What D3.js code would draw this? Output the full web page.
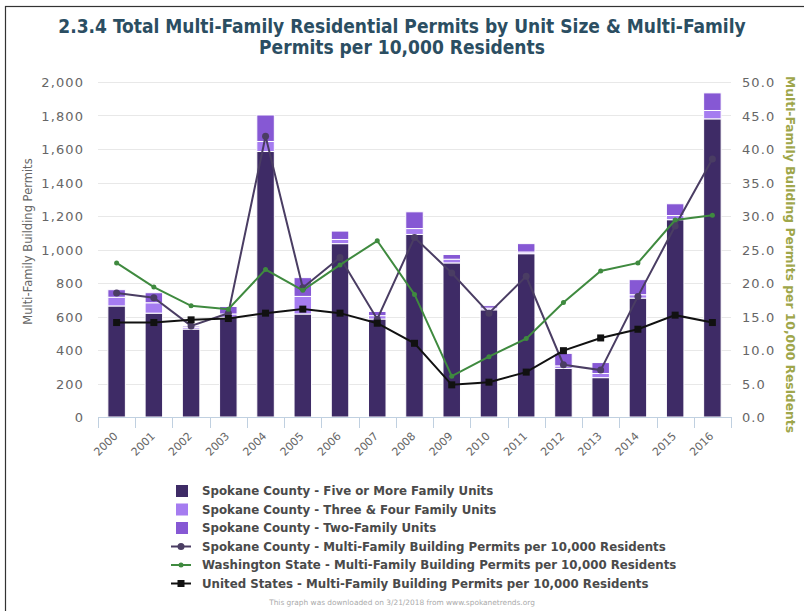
<!DOCTYPE html>
<html><head><meta charset="utf-8">
<script src="https://cdn.jsdelivr.net/npm/d3@7"></script>
<style>
body{margin:0;background:#fff;}
svg{display:block;}
text{font-family:"DejaVu Sans",sans-serif;}
</style></head>
<body><svg id="c" width="804" height="611"></svg>
<script>
const years = ["2000","2001","2002","2003","2004","2005","2006","2007","2008","2009","2010","2011","2012","2013","2014","2015","2016"];
const fivePlus   = [663, 620, 525, 595, 1585, 615, 1035, 585, 1090, 920, 640, 975, 290, 235, 710, 1178, 1780];
const threeFour  = [52, 62, 10, 20, 60, 105, 25, 20, 35, 22, 10, 10, 15, 25, 20, 25, 50];
const twoFamily  = [45, 60, 8, 45, 158, 112, 50, 25, 100, 28, 15, 50, 75, 65, 90, 70, 105];
const spokaneRate = [18.5, 17.8, 13.6, 15.5, 41.9, 19.3, 23.8, 14.6, 26.8, 21.5, 15.5, 21.0, 7.8, 7.0, 18.0, 28.5, 38.5];
const waRate      = [23.0, 19.4, 16.6, 16.1, 22.0, 18.9, 22.7, 26.3, 18.3, 6.1, 9.0, 11.7, 17.1, 21.8, 23.0, 29.4, 30.1];
const usRate      = [14.1, 14.1, 14.5, 14.7, 15.5, 16.1, 15.5, 14.0, 11.0, 4.8, 5.2, 6.7, 9.9, 11.8, 13.1, 15.2, 14.1];
const leftTicks  = [0, 200, 400, 600, 800, 1000, 1200, 1400, 1600, 1800, 2000];
const rightTicks = [0, 5, 10, 15, 20, 25, 30, 35, 40, 45, 50];
const titleLines = ["2.3.4 Total Multi-Family Residential Permits by Unit Size & Multi-Family", "Permits per 10,000 Residents"];
const leftTitle = "Multi-Family Building Permits";
const rightTitle = "Multi-Family Building Permits per 10,000 Residents";
const footer = "This graph was downloaded on 3/21/2018 from www.spokanetrends.org";

const barSeries = [
  {name:"Spokane County - Five or More Family Units", values:fivePlus, color:"#3e2b66"},
  {name:"Spokane County - Three & Four Family Units", values:threeFour, color:"#a57cf0"},
  {name:"Spokane County - Two-Family Units", values:twoFamily, color:"#8658d4"}
];
const lineSeries = [
  {name:"Spokane County - Multi-Family Building Permits per 10,000 Residents", values:spokaneRate, color:"#4a3d63", marker:"circle", r:3.5},
  {name:"Washington State - Multi-Family Building Permits per 10,000 Residents", values:waRate, color:"#3f8a3f", marker:"circle", r:2.5},
  {name:"United States - Multi-Family Building Permits per 10,000 Residents", values:usRate, color:"#111111", marker:"square", r:3.5}
];

const svg = d3.select("#c");
const L = 98, R = 731, T = 82, B = 417;

svg.append("rect").attr("x",5.5).attr("y",6.5).attr("width",810).attr("height",620)
  .attr("fill","none").attr("stroke","#333").attr("stroke-width",1.2);

const title = svg.append("text").attr("text-anchor","middle").attr("fill","#2b4e62")
  .style("font-family","'DejaVu Sans Condensed','DejaVu Sans',sans-serif").style("font-weight","bold").style("font-size","19px");
titleLines.forEach((t,i)=> title.append("tspan").attr("x",402).attr("y",33 + i*21).text(t));

const x = d3.scaleBand().domain(years).range([L,R]);
const yL = d3.scaleLinear().domain([0,2000]).range([B,T]);
const yR = d3.scaleLinear().domain([0,50]).range([B,T]);

// gridlines
svg.append("g").selectAll("line").data(leftTicks.slice(1)).join("line")
  .attr("x1",L).attr("x2",R).attr("y1",d=>Math.round(yL(d))+0.5).attr("y2",d=>Math.round(yL(d))+0.5)
  .attr("stroke","#e8e8e8").attr("stroke-width",1);

// left axis
const gl = svg.append("g").attr("transform",`translate(${L-14},0)`)
  .call(d3.axisLeft(yL).tickValues(leftTicks).tickSize(0).tickFormat(d3.format(",")));
gl.select(".domain").remove();
gl.selectAll("text").attr("fill","#666").style("font-size","13px").style("letter-spacing","1.1px").attr("dy","0.35em").attr("x",0);

// right axis
const gr = svg.append("g").attr("transform",`translate(${R+11},0)`)
  .call(d3.axisRight(yR).tickValues(rightTicks).tickSize(0).tickFormat(d3.format(".1f")));
gr.select(".domain").remove();
gr.selectAll("text").attr("fill","#666").style("font-size","13px").style("letter-spacing","1.1px").attr("dy","0.35em").attr("x",0);

// axis titles
svg.append("text").attr("transform",`translate(32,${(T+B)/2 - 8}) rotate(-90)`).attr("text-anchor","middle")
  .attr("fill","#666").style("font-size","11.5px").text(leftTitle);
svg.append("text").attr("transform",`translate(786,${(T+B)/2+5}) rotate(90)`).attr("text-anchor","middle")
  .attr("fill","#9ea64a").style("font-size","12.3px").style("font-weight","bold").text(rightTitle);

// stacked bars
const stackData = years.map((y,i)=>({year:y, s0:fivePlus[i], s1:threeFour[i], s2:twoFamily[i]}));
const stack = d3.stack().keys(["s0","s1","s2"])(stackData);
const bw = x.bandwidth()*0.47;
svg.append("g").selectAll("g").data(stack).join("g").attr("fill",(d,i)=>barSeries[i].color)
  .selectAll("rect").data(d=>d).join("rect")
  .attr("x",d=>x(d.data.year)+(x.bandwidth()-bw)/2)
  .attr("width",bw)
  .attr("y",d=>yL(d[1]))
  .attr("height",d=>Math.max(0,yL(d[0])-yL(d[1])))
  .attr("stroke","#fff").attr("stroke-width",1);

// x axis
svg.append("line").attr("x1",L).attr("x2",R).attr("y1",B+0.5).attr("y2",B+0.5).attr("stroke","#c0d0e0");
svg.append("g").selectAll("line").data(years.concat(["end"])).join("line")
  .attr("x1",(d,i)=>Math.round(L+i*x.step())+0.5).attr("x2",(d,i)=>Math.round(L+i*x.step())+0.5)
  .attr("y1",B).attr("y2",B+11).attr("stroke","#c0d0e0");
svg.append("g").selectAll("text").data(years).join("text")
  .attr("transform",d=>`translate(${x(d)+x.bandwidth()/2-1},${B+17}) rotate(-45)`)
  .attr("text-anchor","end").attr("dy","0.35em").attr("fill","#666").style("font-size","11px").text(d=>d);

// lines
const line = d3.line().x((d,i)=>x(years[i])+x.bandwidth()/2).y(d=>yR(d));
lineSeries.forEach(s=>{
  const g = svg.append("g");
  g.append("path").datum(s.values).attr("d",line).attr("fill","none").attr("stroke",s.color).attr("stroke-width",2);
  if(s.marker==="circle"){
    g.selectAll("circle").data(s.values).join("circle")
      .attr("cx",(d,i)=>x(years[i])+x.bandwidth()/2).attr("cy",d=>yR(d)).attr("r",s.r).attr("fill",s.color);
  } else {
    g.selectAll("rect").data(s.values).join("rect")
      .attr("x",(d,i)=>x(years[i])+x.bandwidth()/2-s.r).attr("y",d=>yR(d)-s.r)
      .attr("width",s.r*2).attr("height",s.r*2).attr("fill",s.color);
  }
});

// legend
const leg = svg.append("g");
const rowY = i => 491 + i*18.5;
barSeries.forEach((s,i)=>{
  leg.append("rect").attr("x",176).attr("y",rowY(i)-6).attr("width",12).attr("height",12).attr("fill",s.color);
});
lineSeries.forEach((s,j)=>{
  const i = j+3;
  leg.append("line").attr("x1",171).attr("x2",191).attr("y1",rowY(i)).attr("y2",rowY(i)).attr("stroke",s.color).attr("stroke-width",2);
  if(s.marker==="circle") leg.append("circle").attr("cx",181).attr("cy",rowY(i)).attr("r",s.r).attr("fill",s.color);
  else leg.append("rect").attr("x",181-s.r).attr("y",rowY(i)-s.r).attr("width",2*s.r).attr("height",2*s.r).attr("fill",s.color);
});
barSeries.concat(lineSeries).forEach((s,i)=>{
  leg.append("text").attr("x",202).attr("y",rowY(i)).attr("dy","0.35em").attr("fill","#4a4a4a")
    .style("font-size","11.8px").style("font-weight","bold").text(s.name);
});

svg.append("text").attr("x",402).attr("y",605).attr("text-anchor","middle").attr("fill","#aaa")
  .style("font-size","7.4px").text(footer);
</script></body></html>
